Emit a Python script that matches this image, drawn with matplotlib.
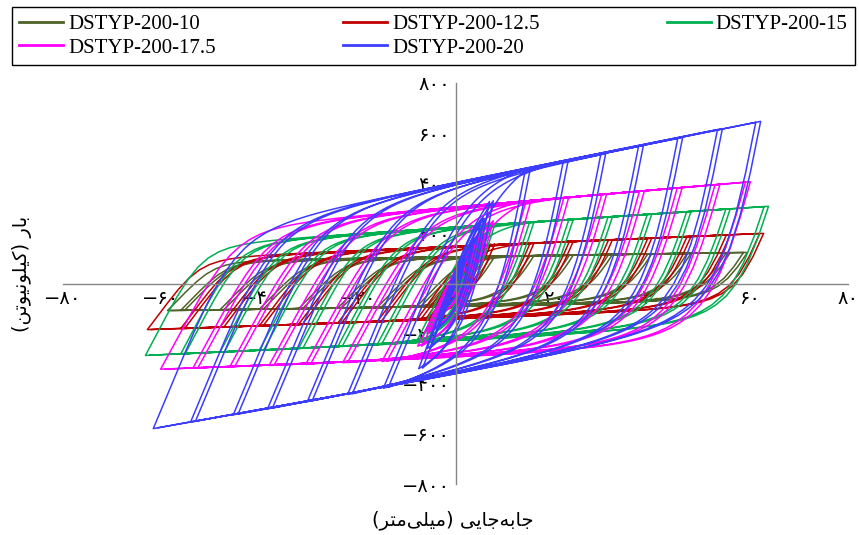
import numpy as np
import matplotlib as mpl
mpl.use('Agg')
import matplotlib.pyplot as plt
from matplotlib.lines import Line2D

labels = ['DSTYP-200-10', 'DSTYP-200-12.5', 'DSTYP-200-15', 'DSTYP-200-17.5', 'DSTYP-200-20']
colors = ['#4f6228', '#c00000', '#00b050', '#ff00ff', '#3d3dff']

# peak points of each amplitude (displacement mm, force kN)
d_pos_10 = [1.9, 3.9, 5.8, 8.0, 16.0, 24.0, 32.0, 40.0, 48.0, 56.0, 59.5]
f_pos_10 = [40, 75, 100, 108, 111, 113, 116, 118, 120, 123, 124]
d_neg_10 = [-1.9, -3.9, -5.8, -8.0, -16.0, -24.0, -32.0, -40.0, -48.0, -56.0, -58.7]
f_neg_10 = [-40, -75, -90, -94, -96, -98, -101, -103, -105, -107, -108]

d_pos_125 = [1.9, 3.9, 5.8, 8.0, 16.0, 24.0, 32.0, 40.0, 48.0, 56.0, 62.8]
f_pos_125 = [50, 100, 140, 158, 161, 168, 175, 181, 188, 194, 200]
d_neg_125 = [-1.9, -3.9, -5.8, -8.0, -16.0, -24.0, -32.0, -40.0, -48.0, -56.0, -62.8]
f_neg_125 = [-50, -100, -135, -147, -153, -158, -163, -169, -174, -180, -184]

d_pos_15 = [1.9, 3.9, 5.8, 8.0, 16.0, 24.0, 32.0, 40.0, 48.0, 56.0, 63.8]
f_pos_15 = [70, 140, 200, 235, 246, 256, 267, 277, 287, 298, 308]
d_neg_15 = [-1.9, -3.9, -5.8, -8.0, -16.0, -24.0, -32.0, -40.0, -48.0, -56.0, -63.2]
f_neg_15 = [-70, -140, -200, -235, -245, -252, -259, -267, -274, -281, -287]

d_pos_175 = [1.9, 3.9, 5.8, 7.7, 15.4, 23.1, 30.8, 38.5, 46.2, 53.9, 60.1]
f_pos_175 = [65, 130, 190, 250, 332, 345, 357, 370, 383, 396, 406]
d_neg_175 = [-1.9, -3.9, -5.8, -7.7, -15.0, -23.0, -30.5, -38.0, -46.0, -53.5, -60.1]
f_neg_175 = [-65, -130, -190, -250, -311, -316, -321, -327, -332, -337, -342]

d_pos_20 = [1.9, 3.9, 5.8, 7.7, 15.3, 23.0, 30.6, 38.3, 46.3, 54.4, 62.2]
f_pos_20 = [90, 180, 260, 330, 463, 494, 518, 551, 583, 618, 647]
d_neg_20 = [-1.9, -3.9, -5.8, -7.5, -14.7, -22.0, -30.2, -38.3, -45.3, -54.0, -61.6]
f_neg_20 = [-90, -180, -260, -340, -418, -443, -471, -500, -524, -553, -579]

# branch stiffness (kN/mm) and curvature read from the loop edges
k_reload = [20, 26, 37, 36, 47]
k_unload = [30, 45, 60, 70, 100]
slope_up = [0.3, 0.83, 1.3, 1.67, 3.92]
slope_dn = [0.27, 0.67, 0.89, 0.7, 3.46]
# the second cycle of an amplitude stops this much (mm) short of the first
cycle_gap = [0.8, 0.8, 0.9, 1.0, 1.0]
r_reload = 4.0
r_unload = 2.0

series = [
    (d_pos_10, f_pos_10, d_neg_10, f_neg_10),
    (d_pos_125, f_pos_125, d_neg_125, f_neg_125),
    (d_pos_15, f_pos_15, d_neg_15, f_neg_15),
    (d_pos_175, f_pos_175, d_neg_175, f_neg_175),
    (d_pos_20, f_pos_20, d_neg_20, f_neg_20),
]

x_ticks = [-80, -60, -40, -20, 0, 20, 40, 60, 80]
y_ticks = [-800, -600, -400, -200, 0, 200, 400, 600, 800]


def fa(v):
    # persian digits for the tick labels
    s = str(abs(v)).translate(str.maketrans('0123456789', '۰۱۲۳۴۵۶۷۸۹'))
    return '\u2212' + s if v < 0 else s


def branch(dr, fr, dt, ft, e0, eh, r, n=60):
    d0 = (ft - eh * dt - fr + e0 * dr) / (e0 - eh)
    f0 = fr + e0 * (d0 - dr)
    b = eh / e0
    d = np.linspace(dr, dt, n)
    es = (d - dr) / (d0 - dr)
    ss = b * es + (1 - b) * es / (1 + np.abs(es) ** r) ** (1 / r)
    f = fr + ss * (f0 - fr)
    f = f + (ft - f[-1]) * (d - dr) / (dt - dr)
    return d, f


fig = plt.figure(figsize=(8.59, 5.35), dpi=100)
ax = fig.add_axes([63 / 859, 51 / 535, 785 / 859, 401 / 535])

for i, (dp, fp, dn, fn) in enumerate(series):
    xs, ys = [0.0], [0.0]
    for j in range(len(dp)):
        for c in range(2):
            g = min(cycle_gap[i], 0.1 * abs(dp[j])) * c
            tp = dp[j] - g
            tfp = fp[j] - slope_up[i] * g
            tn = dn[j] + g
            tfn = fn[j] + slope_dn[i] * g
            d, f = branch(xs[-1], ys[-1], tp, tfp, k_reload[i], slope_up[i], r_reload)
            xs += list(d[1:]); ys += list(f[1:])
            d, f = branch(xs[-1], ys[-1], tn, tfn, k_unload[i], slope_dn[i], r_unload)
            xs += list(d[1:]); ys += list(f[1:])
    ax.plot(xs, ys, color=colors[i], lw=1.1)

ax.set_xlim(-80, 80)
ax.set_ylim(-800, 800)
ax.spines['left'].set_position(('data', 0))
ax.spines['bottom'].set_position(('data', 0))
ax.spines['right'].set_visible(False)
ax.spines['top'].set_visible(False)
for s in ['left', 'bottom']:
    ax.spines[s].set_color('#868686')
    ax.spines[s].set_linewidth(1.0)
ax.set_axisbelow(True)
ax.set_xticks(x_ticks)
ax.set_xticklabels([fa(v) for v in x_ticks], family=['DejaVu Sans'], fontsize=14)
ax.set_yticks(y_ticks)
ax.set_yticklabels([fa(v) for v in y_ticks], family=['DejaVu Sans'], fontsize=14)
ax.tick_params(length=0, pad=4)

# axis titles written in visual order with arabic presentation forms
x_title = '(\uFEAE\uFE98\uFEE3\uFEF0\uFEE0\uFEF4\uFEE3) \uFEF0\uFEF3\uFE8E\uFE9F\uFEEA\uFE91\uFE8E\uFE9F'
y_title = '(\uFEE6\uFE97\uFEEE\uFEF4\uFEE7\uFEEE\uFEE0\uFEF4\uFB90) \uFEAD\uFE8E\uFE91'
fig.text(453 / 859, 1 - 520 / 535, x_title, family=['DejaVu Sans'], fontsize=14,
         ha='center', va='center')
fig.text(22 / 859, 1 - 274 / 535, y_title, family=['DejaVu Sans'], fontsize=14,
         ha='center', va='center', rotation=90)

# legend filled row by row like the original
order = [0, 3, 1, 4, 2]
handles = [Line2D([], [], color=colors[k], lw=2) for k in order]
leg = fig.legend(handles, [labels[k] for k in order], loc='upper left', ncol=3, mode='expand',
                 bbox_to_anchor=(12 / 859, 1 - 7 / 535, 843 / 859, 0),
                 prop={'family': 'Liberation Serif', 'size': 15},
                 frameon=True, fancybox=False, edgecolor='black', framealpha=1,
                 borderpad=0.35, labelspacing=0.2, handlelength=2.1,
                 handletextpad=0.25, borderaxespad=0)
leg.get_frame().set_linewidth(1.0)

plt.savefig('out.png', dpi=100)
